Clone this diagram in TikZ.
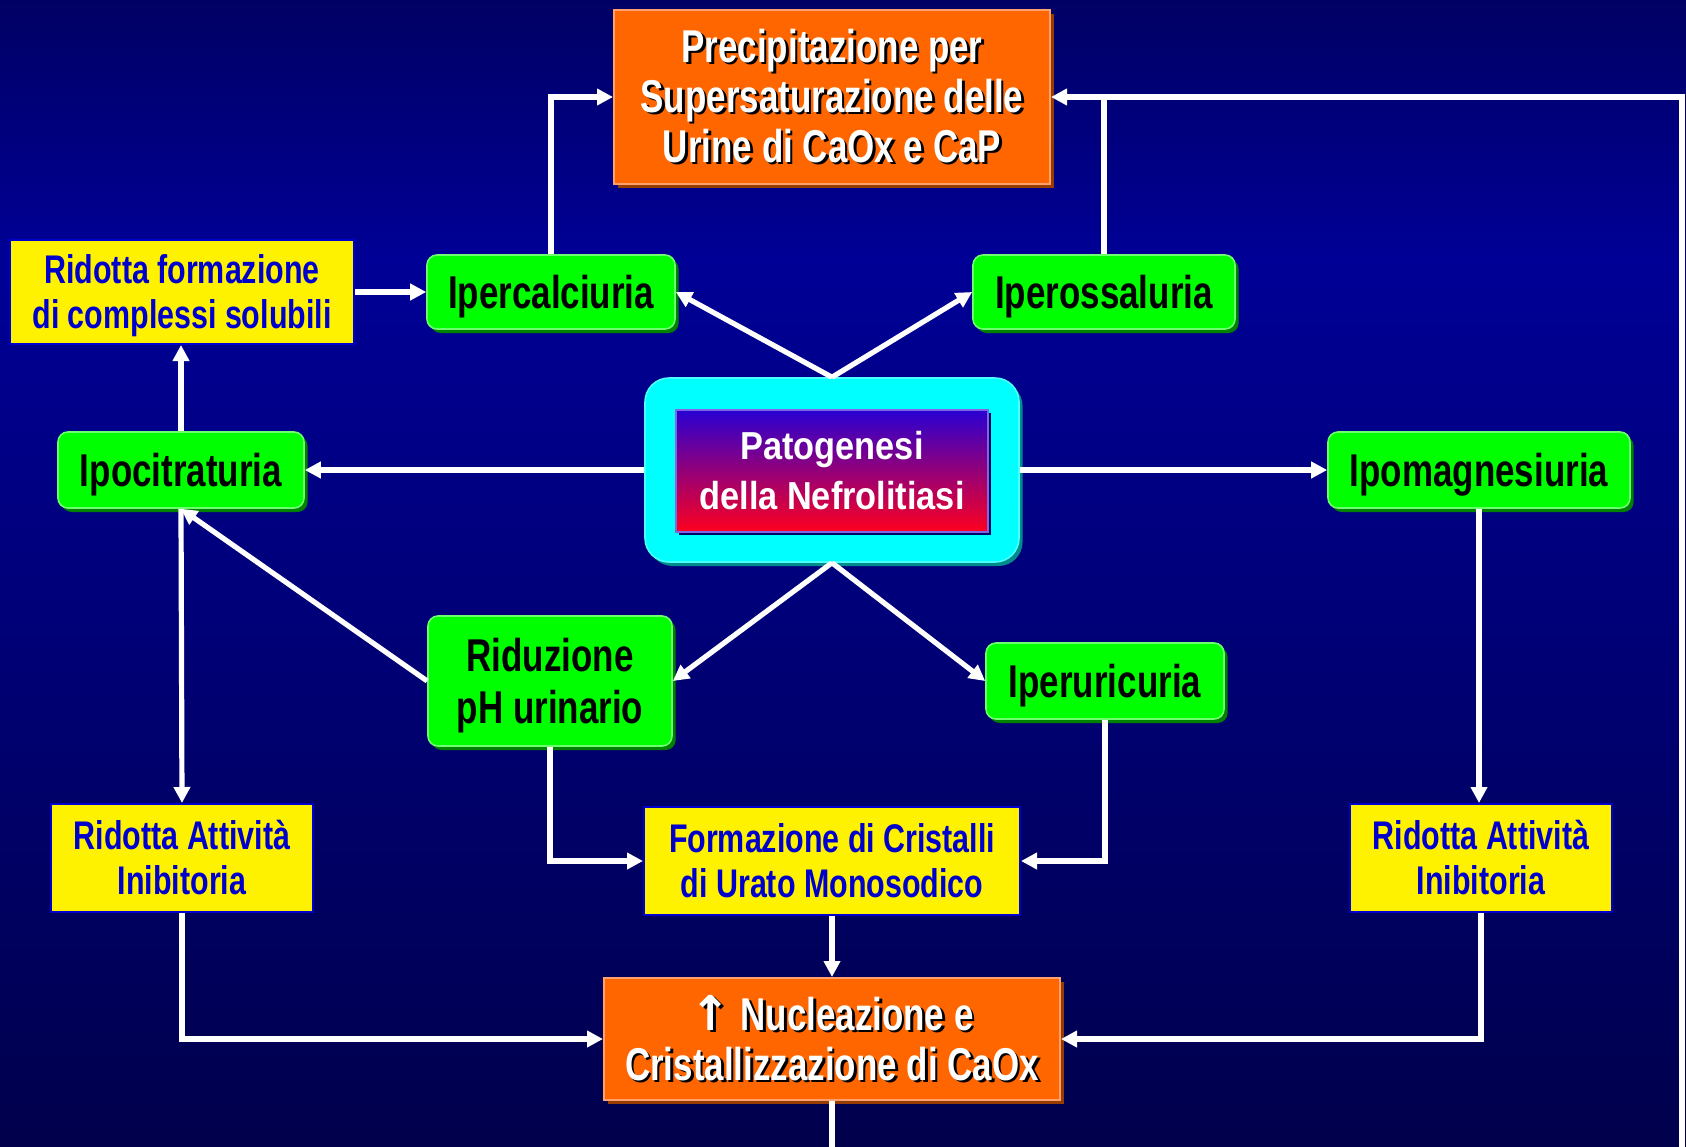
\documentclass[tikz,border=0pt]{standalone}
\usepackage{fontspec}
\setmainfont{Liberation Sans}[FakeStretch=0.76]
\newfontfamily\centrefont{Liberation Sans}[FakeStretch=0.88]
\newfontfamily\arrowfont{DejaVu Sans}
\usetikzlibrary{arrows.meta,shadows}
\definecolor{bgtop}{RGB}{0,0,100}
\definecolor{bgmid}{RGB}{0,0,150}
\definecolor{bgbot}{RGB}{0,0,76}
\definecolor{mygreen}{RGB}{0,255,0}
\definecolor{mygreenlight}{RGB}{110,255,110}
\definecolor{mygreendark}{RGB}{0,130,0}
\definecolor{myorange}{RGB}{255,102,0}
\definecolor{myorangelight}{RGB}{255,160,110}
\definecolor{myorangedark}{RGB}{150,60,0}
\definecolor{myblue}{RGB}{0,0,204}
\definecolor{mycyan}{RGB}{0,255,255}
\definecolor{mycyandark}{RGB}{0,140,140}
\definecolor{violettop}{RGB}{40,0,210}
\definecolor{redbot}{RGB}{255,0,30}
\newcommand{\shtext}[1]{\leavevmode\rlap{\kern1.3pt\raisebox{-1.3pt}{\textcolor{black}{#1}}}#1}
\tikzset{>={Triangle[length=8pt,width=8pt]}}
\tikzset{myline/.style={white,line width=2.6pt}}
\tikzset{myarrow/.style={myline,->}}
\tikzset{greenbox/.style={rectangle,rounded corners=5pt,fill=mygreen,draw=mygreenlight,line width=0.8pt,inner sep=0pt,align=center,text depth=0pt,font=\bfseries\fontsize{23}{26}\selectfont,drop shadow={shadow xshift=1.8pt,shadow yshift=-2pt,fill=mygreendark,opacity=1}}}
\tikzset{yellowbox/.style={rectangle,fill=yellow,draw=myblue,line width=1pt,inner sep=0pt,align=center,text=myblue,font=\bfseries\fontsize{20}{22.5}\selectfont}}
\tikzset{orangebox/.style={rectangle,fill=myorange,draw=myorangelight,line width=1pt,text=white,inner sep=0pt,align=center,font=\bfseries\fontsize{23}{25}\selectfont,drop shadow={shadow xshift=2pt,shadow yshift=-2pt,fill=myorangedark,opacity=1}}}
\tikzset{cyanbox/.style={rectangle,rounded corners=12pt,fill=mycyan,draw=mycyan!70!white,line width=0.8pt,drop shadow={shadow xshift=1.8pt,shadow yshift=-2pt,fill=mycyandark,opacity=1}}}
\tikzset{gradbox/.style={rectangle,top color=violettop,bottom color=redbot,draw=violettop!60!white,line width=0.8pt,text=white,inner sep=0pt,align=center,font=\centrefont\bfseries\fontsize{19.5}{25}\selectfont,drop shadow={shadow xshift=1.5pt,shadow yshift=-1.5pt,fill=black!60!blue,opacity=1}}}

\begin{document}
\begin{tikzpicture}[x=0.5pt,y=-0.5pt]
	\useasboundingbox (0,0) rectangle (1686,1146);
	\shade[top color=bgtop,bottom color=bgmid] (0,0) rectangle (1686,260);
	\shade[top color=bgmid,bottom color=bgbot] (0,259) rectangle (1686,1146);
	\clip (0,0) rectangle (1686,1146);

	\coordinate (loop) at (1682,1200); % way back, below the page

	\node[orangebox,minimum width=218pt,minimum height=87pt] (prec) at (832,97)
		{\shtext{Precipitazione per}\\\shtext{Supersaturazione delle}\\\shtext{Urine di CaOx e CaP}};
	\node[yellowbox,text depth=0pt,minimum width=172pt,minimum height=52pt] (complessi) at (182,292)
		{Ridotta formazione\\di complessi solubili};
	\node[greenbox,minimum width=124pt,minimum height=37pt] (ipercalc) at (551,292) {Ipercalciuria};
	\node[greenbox,minimum width=131pt,minimum height=37pt] (ipeross) at (1104,292) {Iperossaluria};

	\node[cyanbox,minimum width=187pt,minimum height=92pt] (pato) at (832,470) {};
	\node[gradbox,minimum width=156pt,minimum height=61pt] (patotext) at (832,471)
		{Patogenesi\\della Nefrolitiasi};

	\node[greenbox,minimum width=123pt,minimum height=38pt] (ipocit) at (181,470) {Ipocitraturia};
	\node[greenbox,minimum width=151pt,minimum height=38pt] (ipomag) at (1479,470) {Ipomagnesiuria};
	\node[greenbox,minimum width=122pt,minimum height=65pt] (riduz) at (550,681) {Riduzione\\pH urinario};
	\node[greenbox,minimum width=119pt,minimum height=38pt] (iperuric) at (1105,681) {Iperuricuria};

	\node[yellowbox,minimum width=131pt,minimum height=54pt] (inibsx) at (182,858) {Ridotta Attività\\Inibitoria};
	\node[yellowbox,minimum width=188pt,minimum height=54pt] (urato) at (832,861)
		{Formazione di Cristalli\\di Urato Monosodico};
	\node[yellowbox,minimum width=131pt,minimum height=54pt] (inibdx) at (1481,858) {Ridotta Attività\\Inibitoria};

	\node[orangebox,minimum width=228pt,minimum height=61pt] (nucl) at (832,1039)
		{\shtext{{\arrowfont\fontsize{24}{25}\selectfont↑} Nucleazione e}\\\shtext{Cristallizzazione di CaOx}};

	% upper part
	\draw[myarrow] (ipercalc.north) |- (prec.west);
	\draw[myline] (ipeross.north) -- (ipeross.north |- prec.east);
	\draw[myarrow] (nucl.south) |- (loop) |- (prec.east);
	\draw[myarrow] (complessi.east) -- (ipercalc.west);
	\draw[myarrow] (ipocit.north) -- (ipocit.north |- complessi.south);
	\draw[myarrow] (pato.north) -- (ipercalc.east);
	\draw[myarrow] (pato.north) -- (ipeross.west);
	\draw[myarrow] (pato.west) -- (ipocit.east);
	\draw[myarrow] (pato.east) -- (ipomag.west);

	% lower part
	\draw[myarrow] (pato.south) -- (riduz.east);
	\draw[myarrow] (pato.south) -- (iperuric.west);
	\draw[myarrow] (riduz.west) -- (ipocit.south);
	\draw[myarrow] (ipocit.south) -- (inibsx.north);
	\draw[myarrow] (riduz.south) |- (urato.west);
	\draw[myarrow] (iperuric.south) |- (urato.east);
	\draw[myarrow] (urato.south) -- (nucl.north);
	\draw[myarrow] (inibsx.south) |- (nucl.west);
	\draw[myarrow] (inibdx.south) |- (nucl.east);
	\draw[myarrow] (ipomag.south) -- (ipomag.south |- inibdx.north);

\end{tikzpicture}
\end{document}
